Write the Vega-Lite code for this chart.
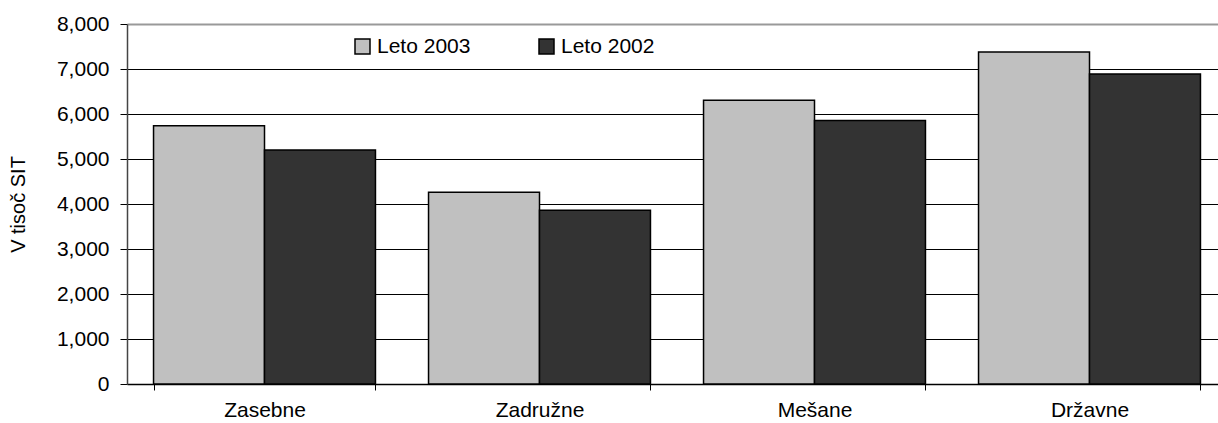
{
  "$schema": "https://vega.github.io/schema/vega-lite/v6.json",
  "width": 1091,
  "height": 360,
  "autosize": {"type": "none"},
  "padding": {"left": 127, "top": 24, "right": 0, "bottom": 39},
  "background": "white",
  "config": {
    "view": {"stroke": null},
    "font": "Liberation Sans",
    "axis": {"labelFont": "Liberation Sans", "titleFont": "Liberation Sans", "labelColor": "black", "titleColor": "black"}
  },
  "data": {
    "values": [
      {"kategorija": "Zasebne", "leto": "Leto 2003", "vrednost": 5740},
      {"kategorija": "Zasebne", "leto": "Leto 2002", "vrednost": 5200},
      {"kategorija": "Zadružne", "leto": "Leto 2003", "vrednost": 4260},
      {"kategorija": "Zadružne", "leto": "Leto 2002", "vrednost": 3860},
      {"kategorija": "Mešane", "leto": "Leto 2003", "vrednost": 6305},
      {"kategorija": "Mešane", "leto": "Leto 2002", "vrednost": 5855},
      {"kategorija": "Državne", "leto": "Leto 2003", "vrednost": 7378},
      {"kategorija": "Državne", "leto": "Leto 2002", "vrednost": 6889}
    ]
  },
  "mark": {"type": "bar", "stroke": "black", "strokeWidth": 1.5},
  "encoding": {
    "x": {
      "field": "kategorija",
      "type": "nominal",
      "sort": ["Zasebne", "Zadružne", "Mešane", "Državne"],
      "scale": {"range": [0, 1100], "paddingInner": 0.193, "paddingOuter": 0.0965},
      "axis": {
        "title": null,
        "labelAngle": 0,
        "labelFontSize": 21,
        "labelPadding": 9,
        "tickBand": "extent",
        "tickColor": "black",
        "tickSize": 6,
        "domainColor": "black",
        "domainWidth": 1.5,
        "grid": false
      }
    },
    "xOffset": {
      "field": "leto",
      "type": "nominal",
      "sort": ["Leto 2003", "Leto 2002"],
      "scale": {"paddingInner": 0, "paddingOuter": 0}
    },
    "y": {
      "field": "vrednost",
      "type": "quantitative",
      "scale": {"domain": [0, 8000], "nice": false},
      "axis": {
        "title": "V tisoč SIT",
        "titleFontSize": 20,
        "titleFontWeight": "normal",
        "titlePadding": 28,
        "values": [0, 1000, 2000, 3000, 4000, 5000, 6000, 7000, 8000],
        "format": ",.0f",
        "labelFontSize": 21,
        "labelPadding": 11,
        "tickSize": 7,
        "tickColor": "black",
        "domainColor": "#444444",
        "domainWidth": 1.5,
        "grid": true,
        "gridColor": {"condition": {"test": "datum.value === 8000", "value": "#999999"}, "value": "black"},
        "gridWidth": {"condition": {"test": "datum.value === 8000", "value": 2}, "value": 1}
      }
    },
    "color": {
      "field": "leto",
      "type": "nominal",
      "sort": ["Leto 2003", "Leto 2002"],
      "scale": {"domain": ["Leto 2003", "Leto 2002"], "range": ["#C0C0C0", "#333333"]},
      "legend": {
        "title": null,
        "orient": "none",
        "direction": "horizontal",
        "legendX": 225,
        "legendY": 12,
        "symbolType": "square",
        "symbolSize": 225,
        "symbolStrokeColor": "black",
        "symbolStrokeWidth": 1.5,
        "symbolOpacity": 1,
        "labelFontSize": 21,
        "labelColor": "black",
        "labelOffset": 4,
        "columnPadding": 65
      }
    }
  }
}
